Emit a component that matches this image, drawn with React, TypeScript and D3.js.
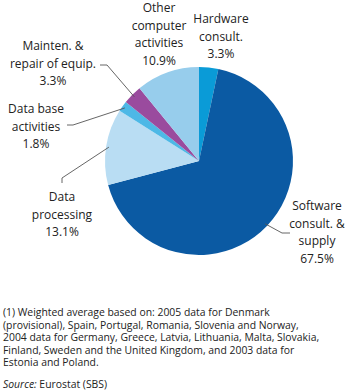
import React from 'react';
import * as d3 from 'd3';

const categories = [
  'Hardware consult.',
  'Software consult. & supply',
  'Data processing',
  'Data base activities',
  'Mainten. & repair of equip.',
  'Other computer activities',
];
const shares = [3.3, 67.5, 13.1, 1.8, 3.3, 10.9];
const shareLabels = ['3.3%', '67.5%', '13.1%', '1.8%', '3.3%', '10.9%'];
const colours = ['#0a9bd7', '#0b5aa3', '#b9ddf3', '#4db8e6', '#9a4b9e', '#97cdec'];

// label text lines (last line is the share)
const labelLines = [
  ['Hardware', 'consult.'],
  ['Software', 'consult. &', 'supply'],
  ['Data', 'processing'],
  ['Data base', 'activities'],
  ['Mainten. &', 'repair of equip.'],
  ['Other', 'computer', 'activities'],
];

const footnote = [
  '(1) Weighted average based on: 2005 data for Denmark',
  '(provisional), Spain, Portugal, Romania, Slovenia and Norway,',
  '2004 data for Germany, Greece, Latvia, Lithuania, Malta, Slovakia,',
  'Finland, Sweden and the United Kingdom, and 2003 data for',
  'Estonia and Poland.',
];

const W = 350;
const H = 392;
const cx = 199;
const cy = 161;
const r = 94;

// label layout: text centre x, first baseline y, leader (elbow, end) or null
const labelLayout = [
  { x: 221, y: 23, leader: null },
  { x: 317, y: 210, leader: { elbow: [282, 233], end: [290, 233] } },
  { x: 62, y: 201, leader: { elbow: [62, 178], end: [62, 183] } },
  { x: 36, y: 113, leader: { elbow: [73, 125], end: [67, 125] } },
  { x: 53, y: 50, leader: { elbow: [107, 65], end: [100, 65] } },
  { x: 159, y: 12, leader: null },
];

const App = () => {
  const pie = d3.pie<number>().sort(null).value(d => d)(shares);
  const arc = d3.arc<d3.PieArcDatum<number>>().innerRadius(0).outerRadius(r);
  const font = "'Open Sans', sans-serif";
  const lh = 17.6;

  return (
    <svg width={W} height={H} style={{ position: 'fixed', left: 0, top: 0, background: '#fff' }}>
      <g transform={`translate(${cx},${cy})`}>
        {pie.map((d, i) => (
          <path key={categories[i]} d={arc(d) || ''} fill={colours[i]} />
        ))}
      </g>
      {pie.map((d, i) => {
        const lay = labelLayout[i];
        if (!lay.leader) return null;
        const a = (d.startAngle + d.endAngle) / 2;
        const px = cx + r * 0.97 * Math.sin(a);
        const py = cy - r * 0.97 * Math.cos(a);
        const pts: [number, number][] = [[px, py], lay.leader.elbow as [number, number], lay.leader.end as [number, number]];
        return (
          <path key={'l' + i} d={d3.line()(pts) || ''} fill="none" stroke="#555" strokeWidth={0.9} />
        );
      })}
      {labelLines.map((lines, i) => {
        const lay = labelLayout[i];
        return (
          <text key={'t' + i} x={lay.x} y={lay.y} textAnchor="middle" fontFamily={font} fontSize={12} fill="#222">
            {[...lines, shareLabels[i]].map((s, j) => (
              <tspan key={j} x={lay.x} y={lay.y + j * lh}>{s}</tspan>
            ))}
          </text>
        );
      })}
      <text fontFamily={font} fontSize={10.4} fill="#222">
        {footnote.map((s, j) => (
          <tspan key={j} x={3} y={316 + j * 12.6}>{s}</tspan>
        ))}
        <tspan x={3} y={388} fontStyle="italic">Source:</tspan>
        <tspan> Eurostat (SBS)</tspan>
      </text>
    </svg>
  );
};

export default App;
